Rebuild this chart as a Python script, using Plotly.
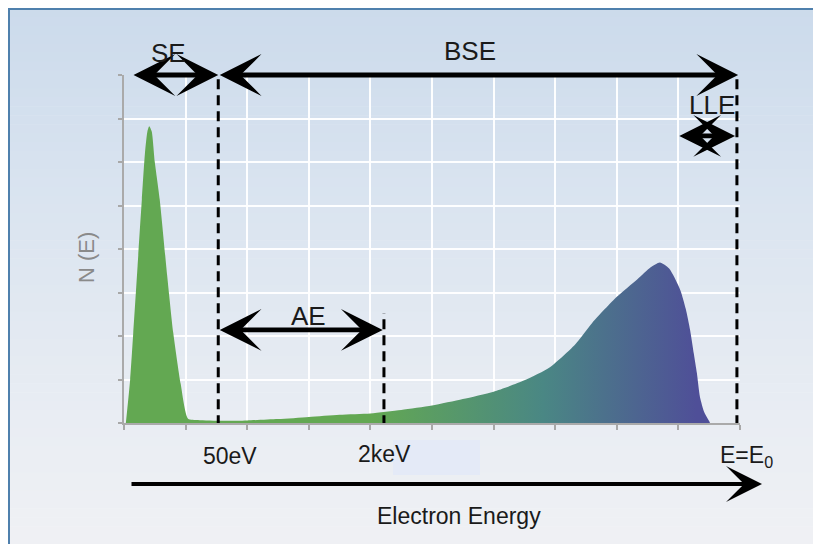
import plotly.graph_objects as go

# ---- data ----
energy = [0.03, 0.10, 0.15, 0.22, 0.29, 0.34, 0.38, 0.41, 0.45, 0.50, 0.58, 0.70, 0.80,
          0.92, 1.04, 1.20, 1.60, 2.00, 2.50, 3.00, 3.50, 4.00, 4.50, 5.00, 5.50, 6.00,
          6.50, 6.92, 7.32, 7.60, 8.00, 8.33, 8.55, 8.70, 8.85, 9.03, 9.12, 9.19, 9.25,
          9.30, 9.35, 9.42, 9.51]
counts = [0.0, 1.0, 2.07, 3.6, 5.14, 6.2, 6.7, 6.82, 6.7, 6.0, 5.14, 3.4, 2.07,
          0.9, 0.1, 0.07, 0.05, 0.06, 0.09, 0.14, 0.19, 0.22, 0.30, 0.40, 0.55, 0.72,
          0.98, 1.29, 1.80, 2.30, 2.90, 3.30, 3.58, 3.69, 3.55, 3.06, 2.62, 2.14, 1.60,
          1.15, 0.60, 0.25, 0.02]

x_ticks = list(range(0, 11))
y_ticks = list(range(0, 9))

marker_labels = ["50eV", "2keV", "E=E<sub>0</sub>"]
marker_energy = [1.53, 4.22, 9.95]

region_names = ["SE", "BSE", "LLE", "AE"]
region_start = [0.13, 1.53, 8.99, 1.53]
region_end = [1.53, 9.97, 9.92, 4.20]

# ---- layout geometry (page pixels; the page body adds an 8px offset) ----
OFF = 8
W, H = 821 - OFF, 544 - OFF
L, R, T, B = 124, 740, 75, 423   # plot area in page pixels
def px(xp):
    return (xp - L) / (R - L)
def py(yp):
    return (B - yp) / (B - T)

FONT = "Liberation Sans, Arial, sans-serif"

fig = go.Figure()
fig.add_trace(go.Scatter(
    x=energy, y=counts, mode="lines", fill="tozeroy",
    line=dict(width=0, shape="spline", smoothing=0.6, color="rgba(0,0,0,0)"),
    fillgradient=dict(type="horizontal", start=0, stop=10,
                      colorscale=[[0, "#63a852"], [0.40, "#63a852"], [0.68, "#4a8784"],
                                  [0.93, "#4f4f98"], [1, "#4f4f98"]]),
    hoverinfo="skip", showlegend=False))

shapes = []
# background vertical gradient (bands)
stops = [(0, (203, 218, 235)), (200, (218, 228, 240)), (420, (233, 237, 243)), (560, (240, 241, 244))]
def bg_col(yp):
    for (y0, c0), (y1, c1) in zip(stops[:-1], stops[1:]):
        if y0 <= yp <= y1:
            t = (yp - y0) / (y1 - y0)
            return "rgb(%d,%d,%d)" % tuple(round(a + (b - a) * t) for a, b in zip(c0, c1))
    return "rgb(240,241,244)"
N = 60
top_pg, bot_pg = OFF, 544
for i in range(N):
    y0 = top_pg + (bot_pg - top_pg) * i / N
    y1 = top_pg + (bot_pg - top_pg) * (i + 1) / N
    shapes.append(dict(type="rect", xref="paper", yref="paper", layer="below",
                       x0=px(OFF), x1=px(830), y0=py(y1 + 0.6), y1=py(y0),
                       fillcolor=bg_col((y0 + y1) / 2), line=dict(width=0)))
shapes.append(dict(type="rect", xref="paper", yref="paper", layer="below",
                   x0=px(393), x1=px(480), y0=py(475), y1=py(440),
                   fillcolor="#e4eaf7", line=dict(width=0)))
# frame border
shapes.append(dict(type="line", xref="paper", yref="paper", x0=px(OFF + 1), x1=px(OFF + 1),
                   y0=py(OFF), y1=py(560), line=dict(color="#4f80ad", width=2)))
shapes.append(dict(type="line", xref="paper", yref="paper", x0=px(OFF), x1=px(830),
                   y0=py(OFF + 1), y1=py(OFF + 1), line=dict(color="#4f80ad", width=2)))
# dashed markers
dash_tops = [8.0, 2.53, 8.0]
for xe, top in zip(marker_energy, dash_tops):
    shapes.append(dict(type="line", xref="x", yref="y", x0=xe, x1=xe, y0=-0.05, y1=top,
                       layer="above", line=dict(color="black", width=3, dash="10px,6px")))

annotations = []
# region arrows
arrow_y = [8.0, 8.0, 6.6, 2.14]
for s, e, ay in zip(region_start, region_end, arrow_y):
    annotations.append(dict(x=e, y=ay, ax=s, ay=ay, xref="x", yref="y", axref="x", ayref="y",
                            text="", showarrow=True, arrowhead=3, startarrowhead=3,
                            arrowside="end+start", arrowsize=1.45, startarrowsize=1.45,
                            arrowwidth=4.8, arrowcolor="black", standoff=0, startstandoff=0))
def label(x, y, text, size, color="#1a1a1a", **kw):
    annotations.append(dict(x=px(x), y=py(y), xref="paper", yref="paper", text=text,
                            xanchor="center", yanchor="middle", showarrow=False,
                            font=dict(family=FONT, size=size, color=color), **kw))
# region labels
label_pos = [(168, 53), (470, 51), (712, 105), (308, 316)]
for name, (lx, ly) in zip(region_names, label_pos):
    label(lx, ly, name, 26)
# marker labels
mark_pos = [(230, 456), (384, 454), (746, 456)]
for lab, (lx, ly) in zip(marker_labels, mark_pos):
    label(lx, ly, lab, 23)
# energy axis arrow (paper-referenced so it is drawn below the plot area)
annotations.append(dict(x=px(762), y=py(484), xref="paper", yref="paper",
                        ax=-(762 - 130), ay=0, axref="pixel", ayref="pixel",
                        text="", showarrow=True, arrowhead=3, arrowsize=1.5, arrowwidth=4,
                        arrowcolor="black", standoff=0))
label(459, 516, "Electron Energy", 23)
label(86, 258, "N (E)", 22, color="#8a8a8a", textangle=-90)

axis_common = dict(showgrid=True, gridcolor="rgba(255,255,255,0.95)", gridwidth=1.5,
                   showticklabels=False, ticks="outside", tickcolor="#a8a8a8", tickwidth=1.5,
                   showline=True, linecolor="#aaaaaa", linewidth=2, zeroline=False,
                   automargin=False, fixedrange=True)
fig.update_layout(
    width=W, height=H,
    margin=dict(l=L - OFF, r=W - (R - OFF), t=T - OFF, b=H - (B - OFF)),
    paper_bgcolor="white", plot_bgcolor="rgba(0,0,0,0)",
    xaxis=dict(range=[0, 10], tickvals=x_ticks, ticklen=5, **axis_common),
    yaxis=dict(range=[0, 8], tickvals=y_ticks, ticklen=4, **axis_common),
    shapes=shapes, annotations=annotations, showlegend=False,
)
fig.write_html("out.html")
